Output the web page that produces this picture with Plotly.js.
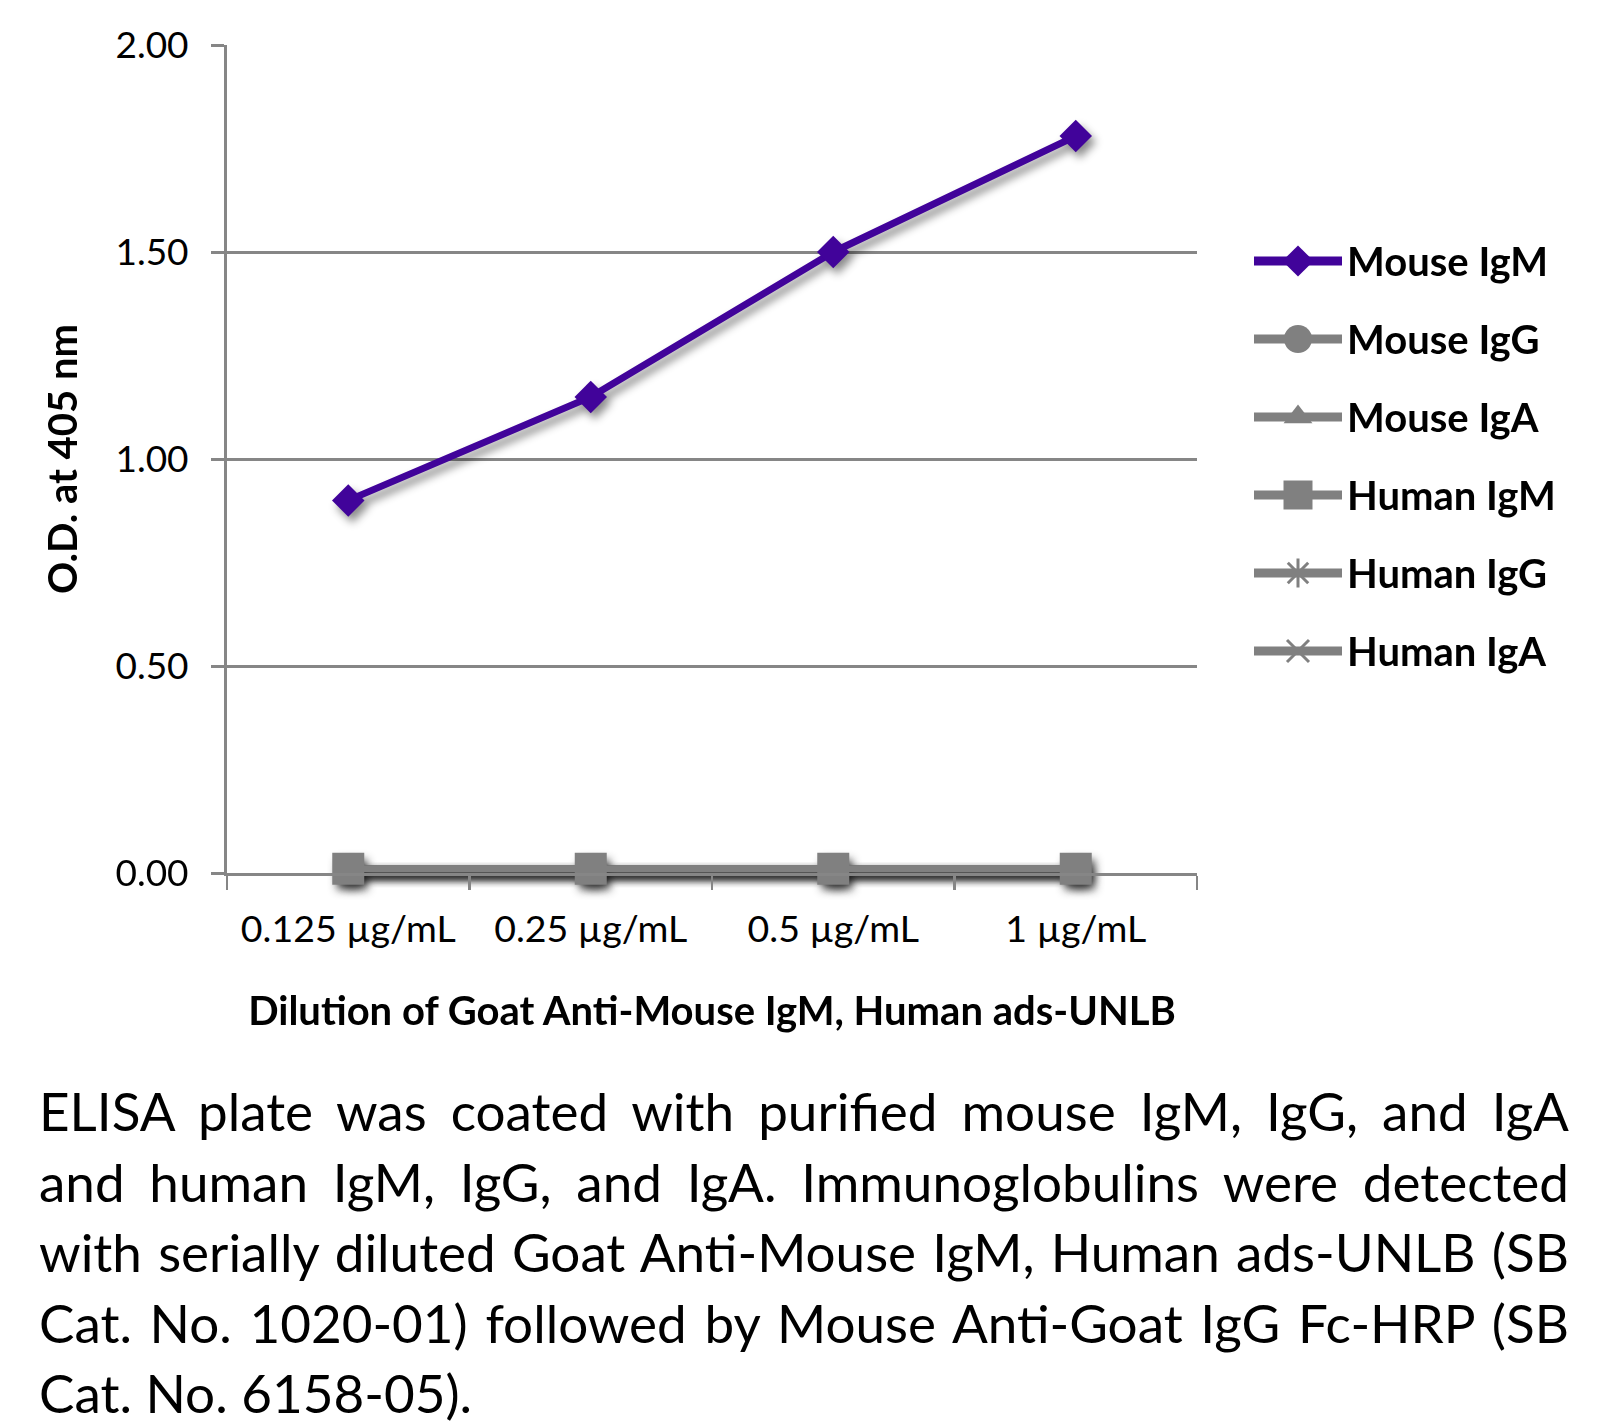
<!DOCTYPE html>
<html><head><meta charset="utf-8">
<script src="https://cdn.plot.ly/plotly-3.0.1.min.js"></script>
<style>
body{margin:0;background:#fff;}
#chart{position:absolute;left:0;top:0;width:1608px;height:1050px;}
#caption{position:absolute;left:39px;top:1076px;font-family:Lato, sans-serif;font-size:53px;line-height:70.5px;color:#000;transform-origin:0 0;}
#caption div{text-align:justify;text-align-last:justify;}
#caption div.last{text-align-last:left;}
.subplot.xy .scatterlayer .trace{filter:drop-shadow(4px 6px 4px rgba(0,0,0,0.45));}
.subplot.x2y2 .scatterlayer .js-line{stroke-linecap:round;}
</style></head>
<body>
<div id="chart"></div>
<div id="caption"></div>
<script>
// ---- data ----
const categories = ['0.125 µg/mL', '0.25 µg/mL', '0.5 µg/mL', '1 µg/mL'];
const mouseIgM = [0.90, 1.15, 1.50, 1.78];
const mouseIgG = [0.01, 0.01, 0.01, 0.01];
const mouseIgA = [0.01, 0.01, 0.01, 0.01];
const humanIgM = [0.01, 0.01, 0.01, 0.01];
const humanIgG = [0.01, 0.01, 0.01, 0.01];
const humanIgA = [0.01, 0.01, 0.01, 0.01];
const seriesNames = ['Mouse IgM', 'Mouse IgG', 'Mouse IgA', 'Human IgM', 'Human IgG', 'Human IgA'];
const seriesValues = [mouseIgM, mouseIgG, mouseIgA, humanIgM, humanIgG, humanIgA];
const yTickValues = [0, 0.5, 1.0, 1.5, 2.0];
const xTitle = 'Dilution of Goat Anti-Mouse IgM, Human ads-UNLB';
const yTitle = 'O.D. at 405 nm';
const captionLines = [
  'ELISA plate was coated with purified mouse IgM, IgG, and IgA',
  'and human IgM, IgG, and IgA.  Immunoglobulins were detected',
  'with serially diluted Goat Anti-Mouse IgM, Human ads-UNLB (SB',
  'Cat. No. 1020-01) followed by Mouse Anti-Goat IgG Fc-HRP (SB',
  'Cat. No. 6158-05).'
];

// ---- styles ----
const PURPLE = '#41039A';
const GRAY = '#808080';
const AXIS = '#868686';
const styles = [
  {color: PURPLE, symbol: 'diamond', size: 25, lsize: 24, open: false},
  {color: GRAY, symbol: 'circle', size: 28, lsize: 28, open: false},
  {color: GRAY, symbol: 'triangle-up', size: 26, lsize: 25, open: false},
  {color: GRAY, symbol: 'square', size: 32, lsize: 29, open: false},
  {color: GRAY, symbol: 'asterisk-open', size: 24, lsize: 24, open: true},
  {color: GRAY, symbol: 'x-thin-open', size: 22, lsize: 22, open: true}
];
// drawing order in the plot (the large squares end up on top of the other grey markers)
const drawOrder = [1, 2, 4, 5, 3, 0];

const traces = [];
drawOrder.forEach(i => {
  const st = styles[i];
  traces.push({
    type: 'scatter', mode: 'lines+markers', name: seriesNames[i],
    x: categories, y: seriesValues[i],
    xaxis: 'x', yaxis: 'y', showlegend: false, cliponaxis: false,
    line: {color: st.color, width: 7},
    marker: {symbol: st.symbol, size: st.size, color: st.color,
             line: {color: st.color, width: st.open ? 3 : 0}},
    hoverinfo: 'skip'
  });
});
// custom legend (glyphs on a hidden helper axis)
seriesNames.forEach((name, i) => {
  const st = styles[i];
  traces.push({
    type: 'scatter', mode: 'lines+markers', name: name + ' (legend)',
    x: [0, 1, 2], y: [i, i, i],
    xaxis: 'x2', yaxis: 'y2', showlegend: false, cliponaxis: false,
    line: {color: st.color, width: 9},
    marker: {symbol: st.symbol, size: st.lsize, color: st.color, opacity: [0, 1, 0],
             line: {color: st.color, width: st.open ? 3 : 0}},
    hoverinfo: 'skip'
  });
});

const legendAnnotations = seriesNames.map((name, i) => ({
  text: name, xref: 'x2', yref: 'y2', x: 2, y: i, xanchor: 'left', yanchor: 'middle',
  xshift: 3, showarrow: false,
  font: {family: 'Lato, sans-serif', size: 40, color: '#000', weight: 'bold'}
}));

const PW = 1381; // plot area width (227 .. 1608)
const layout = {
  width: 1608, height: 1050,
  margin: {l: 227, r: 0, t: 45, b: 177},
  paper_bgcolor: '#fff', plot_bgcolor: '#fff',
  font: {family: 'Lato, sans-serif', color: '#000'},
  showlegend: false,
  xaxis: {
    type: 'category', domain: [0, 970 / PW], range: [-0.5, 3.5], anchor: 'y',
    showgrid: false, zeroline: false, showline: true, linecolor: AXIS, linewidth: 3,
    ticks: 'outside', tickson: 'boundaries', ticklen: 14, tickwidth: 2.5, tickcolor: AXIS,
    tickfont: {size: 37.5, color: '#000'}, ticklabelstandoff: 21, automargin: false,
    title: {text: xTitle, font: {size: 40, weight: 'bold', color: '#000'}, standoff: 48}
  },
  yaxis: {
    range: [0, 2], anchor: 'x', tickvals: yTickValues, tickformat: '.2f',
    showgrid: true, gridcolor: AXIS, gridwidth: 3, zeroline: false,
    showline: true, linecolor: AXIS, linewidth: 3,
    ticks: 'outside', ticklen: 13, tickwidth: 3, tickcolor: AXIS,
    tickfont: {size: 37, color: '#000'}, ticklabelstandoff: 15, automargin: false,
    title: {text: yTitle, font: {size: 40, weight: 'bold', color: '#000'}, standoff: 26}
  },
  xaxis2: {domain: [1027 / PW, 1115 / PW], range: [0, 2], anchor: 'y2', visible: false, fixedrange: true},
  yaxis2: {domain: [0, 1], range: [(873 - 261) / 78, (45 - 261) / 78], anchor: 'x2', visible: false, fixedrange: true},
  annotations: legendAnnotations
};

Plotly.newPlot('chart', traces, layout, {displayModeBar: false, staticPlot: true});

// ---- caption (justified like the original) ----
const cap = document.getElementById('caption');
const TARGET = 1530;
let maxW = 0;
captionLines.forEach(t => {
  const s = document.createElement('span');
  s.style.whiteSpace = 'pre';
  s.textContent = t;
  cap.appendChild(s);
  maxW = Math.max(maxW, s.getBoundingClientRect().width);
  cap.removeChild(s);
});
const sc = Math.min(1, TARGET / maxW);
cap.style.width = (TARGET / sc) + 'px';
cap.style.transform = 'scaleX(' + sc + ')';
captionLines.forEach((t, i) => {
  const d = document.createElement('div');
  d.textContent = t;
  if (i === captionLines.length - 1) d.className = 'last';
  cap.appendChild(d);
});
</script>
</body></html>
